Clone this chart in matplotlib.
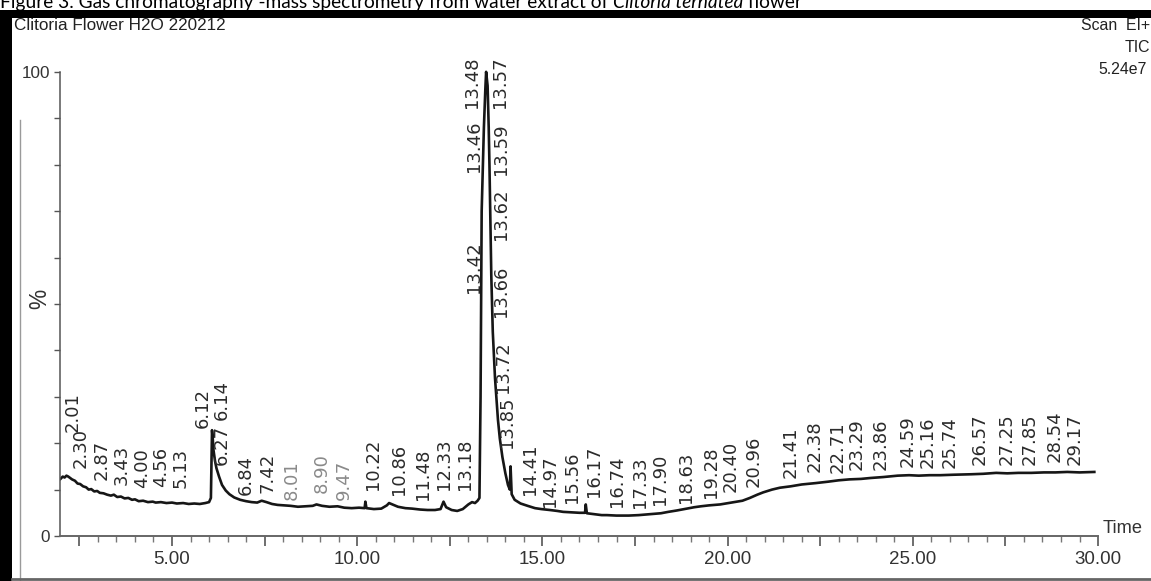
#! /usr/bin/env python

import numpy as np
import matplotlib
matplotlib.use('Agg')
import matplotlib.pyplot as plt
from matplotlib import font_manager
from matplotlib.patches import Rectangle
from matplotlib.lines import Line2D
from matplotlib.ticker import FixedLocator, FuncFormatter

# retention time (min) and relative intensity (%)
rt = [1.99, 2.05, 2.10, 2.15, 2.20, 2.25, 2.30, 2.38, 2.45, 2.52, 2.60, 2.68, 2.75, 2.82, 2.90,
      2.98, 3.05, 3.15, 3.25, 3.35, 3.43, 3.52, 3.62, 3.72, 3.82, 3.92, 4.00, 4.10, 4.22, 4.35,
      4.48, 4.56, 4.70, 4.85, 5.00, 5.13, 5.30, 5.45, 5.60, 5.75, 5.90, 6.00, 6.05, 6.08, 6.10,
      6.12, 6.16, 6.20, 6.27, 6.35, 6.45, 6.55, 6.68, 6.84, 7.00, 7.15, 7.30, 7.42, 7.55, 7.70,
      7.85, 8.01, 8.20, 8.40, 8.60, 8.80, 8.90, 9.05, 9.25, 9.47, 9.65, 9.85, 10.05, 10.20, 10.22,
      10.25, 10.45, 10.65, 10.80, 10.86, 10.95, 11.10, 11.30, 11.48, 11.70, 11.90, 12.10, 12.25,
      12.33, 12.40, 12.55, 12.70, 12.85, 13.00, 13.10, 13.18, 13.25, 13.30, 13.33, 13.36, 13.42,
      13.46, 13.48, 13.52, 13.55, 13.57, 13.59, 13.62, 13.66, 13.72, 13.80, 13.85, 13.92, 14.00,
      14.07, 14.12, 14.14, 14.17, 14.25, 14.41, 14.60, 14.80, 14.97, 15.20, 15.40, 15.56, 15.80,
      16.00, 16.15, 16.17, 16.20, 16.40, 16.60, 16.74, 17.00, 17.33, 17.60, 17.90, 18.20, 18.40,
      18.63, 18.90, 19.10, 19.28, 19.50, 19.80, 20.10, 20.40, 20.60, 20.80, 20.96, 21.20, 21.41,
      21.70, 22.00, 22.38, 22.71, 23.00, 23.29, 23.60, 23.86, 24.20, 24.59, 24.90, 25.16, 25.45,
      25.74, 26.10, 26.57, 26.90, 27.25, 27.55, 27.85, 28.20, 28.54, 28.85, 29.17, 29.50, 29.90]

intensity = [12.3, 12.8, 12.6, 13.0, 12.8, 12.5, 12.2, 11.9, 11.3, 11.2, 10.7, 10.5, 10.0, 10.1, 9.6,
             9.7, 9.3, 9.2, 8.9, 8.7, 8.9, 8.4, 8.5, 8.1, 8.2, 7.8, 7.9, 7.5, 7.6, 7.3,
             7.4, 7.2, 7.3, 7.1, 7.2, 7.0, 7.1, 6.9, 7.0, 6.9, 7.1, 7.3, 8.2, 22.8, 21.0,
             18.5, 16.2, 14.6, 12.8, 11.0, 9.8, 9.0, 8.3, 7.8, 7.5, 7.3, 7.2, 7.6, 7.3, 6.9,
             6.7, 6.6, 6.5, 6.3, 6.4, 6.5, 6.8, 6.5, 6.3, 6.4, 6.1, 6.0, 6.1, 6.0, 7.4,
             6.0, 5.8, 5.9, 6.6, 7.1, 6.8, 6.3, 6.0, 5.9, 5.7, 5.6, 5.6, 5.8,
             7.4, 6.2, 5.6, 5.4, 5.8, 6.8, 7.3, 7.1, 7.6, 8.2, 30.0, 70.0, 88.0,
             96.5, 100.0, 97.0, 88.0, 80.0, 70.0, 56.0, 44.0, 34.0, 25.0, 21.0, 17.0, 13.5,
             11.0, 10.0, 15.0, 9.0, 7.8, 7.0, 6.5, 6.0, 5.8, 5.6, 5.4, 5.2, 5.1,
             5.0, 5.0, 6.8, 4.9, 4.7, 4.5, 4.5, 4.4, 4.4, 4.5, 4.7, 4.9, 5.2,
             5.5, 5.9, 6.2, 6.4, 6.6, 6.8, 7.2, 7.6, 8.2, 8.9, 9.4, 10.0, 10.4,
             10.7, 11.1, 11.4, 11.7, 12.0, 12.2, 12.3, 12.5, 12.7, 13.0, 13.1, 13.0, 13.1,
             13.1, 13.2, 13.3, 13.4, 13.6, 13.5, 13.6, 13.6, 13.7, 13.7, 13.8, 13.7, 13.8]

# peak retention-time labels printed on the trace
peak_labels = ['2.01', '2.30', '2.87', '3.43', '4.00', '4.56', '5.13', '6.12', '6.27', '6.14',
               '6.84', '7.42', '8.01', '8.90', '9.47', '10.22', '10.86', '11.48', '12.33', '13.18',
               '13.42', '13.46', '13.48', '13.57', '13.59', '13.62', '13.66', '13.72', '13.85',
               '14.41', '14.97', '15.56', '16.17', '16.74', '17.33', '17.90', '18.63', '19.28',
               '20.40', '20.96', '21.41', '22.38', '22.71', '23.29', '23.86', '24.59', '25.16',
               '25.74', '26.57', '27.25', '27.85', '28.54', '29.17']

# where each label sits (x in min, bottom of the label in %)
label_x = [2.31, 2.52, 3.11, 3.65, 4.19, 4.70, 5.24, 5.84, 6.35, 6.35, 7.00, 7.57, 8.24, 9.05,
           9.64, 10.43, 11.13, 11.78, 12.34, 12.91, 13.15, 13.15, 13.10, 13.86, 13.88, 13.88,
           13.88, 13.94, 14.04, 14.67, 15.21, 15.80, 16.39, 17.01, 17.64, 18.18, 18.88, 19.55,
           20.09, 20.69, 21.69, 22.36, 22.98, 23.49, 24.12, 24.87, 25.41, 26.00, 26.81, 27.54,
           28.16, 28.84, 29.38]
label_y = [22.4, 14.7, 12.1, 11.0, 10.3, 10.6, 10.3, 23.3, 15.3, 25.0, 8.8, 9.3, 7.8, 9.3, 7.8,
           9.9, 8.8, 7.8, 9.9, 9.9, 52.4, 78.4, 92.2, 92.2, 77.8, 63.8, 47.2, 30.8, 19.0, 8.8,
           6.3, 7.1, 8.4, 6.3, 6.0, 6.7, 7.1, 8.2, 9.5, 10.6, 12.5, 13.8, 13.6, 14.2, 14.2,
           14.9, 14.7, 14.7, 15.3, 15.3, 15.3, 15.9, 15.3]
faint = ['8.01', '8.90', '9.47']

W, H = 1151, 581

# pick a narrow font for the instrument text if there is one
names = {f.name for f in font_manager.fontManager.ttflist}
if 'Liberation Sans Narrow' in names:
    narrow = 'Liberation Sans Narrow'
    nscale = 1.0
else:
    narrow = 'Liberation Sans'
    nscale = 0.82

fig = plt.figure(figsize=(W / 100, H / 100), dpi=100)
fig.patch.set_facecolor('white')

ax = fig.add_axes([60 / W, 45 / H, (W - 60) / W, 518 / H])
ax.patch.set_alpha(0)

ax.plot(rt, intensity, color='#161616', lw=1.9, solid_joinstyle='round')

for s, x, y in zip(peak_labels, label_x, label_y):
    c = '#8a8a8a' if s in faint else '#2b2b2b'
    ax.text(x, y, s, rotation=90, ha='center', va='bottom', fontsize=13,
            family='DejaVu Sans', color=c)

# axes look like the instrument printout
for side in ['top', 'right']:
    ax.spines[side].set_visible(False)
ax.spines['left'].set_bounds(0, 100)
ax.spines['bottom'].set_bounds(1.976, 30)
ax.spines['left'].set_color('#555555')
ax.spines['bottom'].set_color('#666666')
ax.spines['left'].set_linewidth(1.1)
ax.spines['bottom'].set_linewidth(1.4)

ax.yaxis.set_major_locator(FixedLocator(np.arange(0, 101, 10)))
ax.yaxis.set_major_formatter(FuncFormatter(lambda v, p: '%d' % v if v in (0, 100) else ''))
ax.tick_params(axis='y', direction='out', length=4, width=1, color='#555555',
               labelsize=15 * nscale, pad=3, labelcolor='#333333')

ax.xaxis.set_major_locator(FixedLocator(np.arange(2.5, 30.01, 2.5)))
ax.xaxis.set_minor_locator(FixedLocator(np.arange(2.5, 30.01, 0.5)))
ax.xaxis.set_major_formatter(FuncFormatter(lambda v, p: '%.2f' % v if abs(v % 5) < 1e-6 else ''))
ax.tick_params(axis='x', which='major', direction='out', length=7, width=1.2, color='#555555',
               labelsize=16.5 * nscale, pad=4, labelcolor='#333333')
ax.tick_params(axis='x', which='minor', direction='out', length=4, width=1, color='#777777')
for lab in ax.get_xticklabels() + ax.get_yticklabels():
    lab.set_family(narrow)

ax.set_xlim(1.976, 31.43)
ax.set_ylim(0, 111.6)

ax.text(-0.019, 51, '%', rotation=90, transform=ax.get_yaxis_transform(),
        ha='center', va='center', fontsize=20 * nscale, family=narrow, color='#333333')
ax.text(30.12, 0.6, 'Time', ha='left', va='baseline', fontsize=16 * nscale,
        family=narrow, color='#333333')

# header text of the printout
fig.text(14 / W, 1 - 26 / H, 'Clitoria Flower H2O 220212', ha='left', va='center',
         fontsize=15 * nscale, family=narrow, color='#222222')
fig.text(1 - 1 / W, 1 - 25 / H, 'Scan  EI+', ha='right', va='center',
         fontsize=14 * nscale, family=narrow, color='#222222')
fig.text(1 - 1 / W, 1 - 47 / H, 'TIC', ha='right', va='center',
         fontsize=14 * nscale, family=narrow, color='#222222')
fig.text(1098 / W, 1 - 69 / H, '5.24e7', ha='left', va='center',
         fontsize=14 * nscale, family=narrow, color='#222222')

# scan borders
fig.add_artist(Rectangle((0, 1 - 18 / H), 1, 8 / H, transform=fig.transFigure,
                         facecolor='black', edgecolor='none'))
fig.add_artist(Rectangle((0, 0), 12 / W, 1 - 10 / H, transform=fig.transFigure,
                         facecolor='black', edgecolor='none'))
fig.add_artist(Line2D([20 / W, 20 / W], [0, 1 - 120 / H], transform=fig.transFigure,
                      color='#9a9a9a', lw=1))
fig.add_artist(Line2D([12 / W, 1], [2.5 / H, 2.5 / H], transform=fig.transFigure,
                      color='#666666', lw=2))

# figure caption above the scan, cut off at the top edge like the scan
cap_kw = dict(fontsize=13.8, family='Lato', color='black', va='baseline')
t1 = fig.text(0, 1 - 8 / H, 'Figure 3. Gas chromatography -mass spectrometry from water extract of ', **cap_kw)
r = fig.canvas.get_renderer()
x1 = t1.get_window_extent(r).x1 / W
t2 = fig.text(x1, 1 - 8 / H, 'Clitoria ternatea', style='italic', **cap_kw)
x2 = t2.get_window_extent(r).x1 / W
fig.text(x2, 1 - 8 / H, ' flower', **cap_kw)

plt.savefig('out.png', dpi=100)
